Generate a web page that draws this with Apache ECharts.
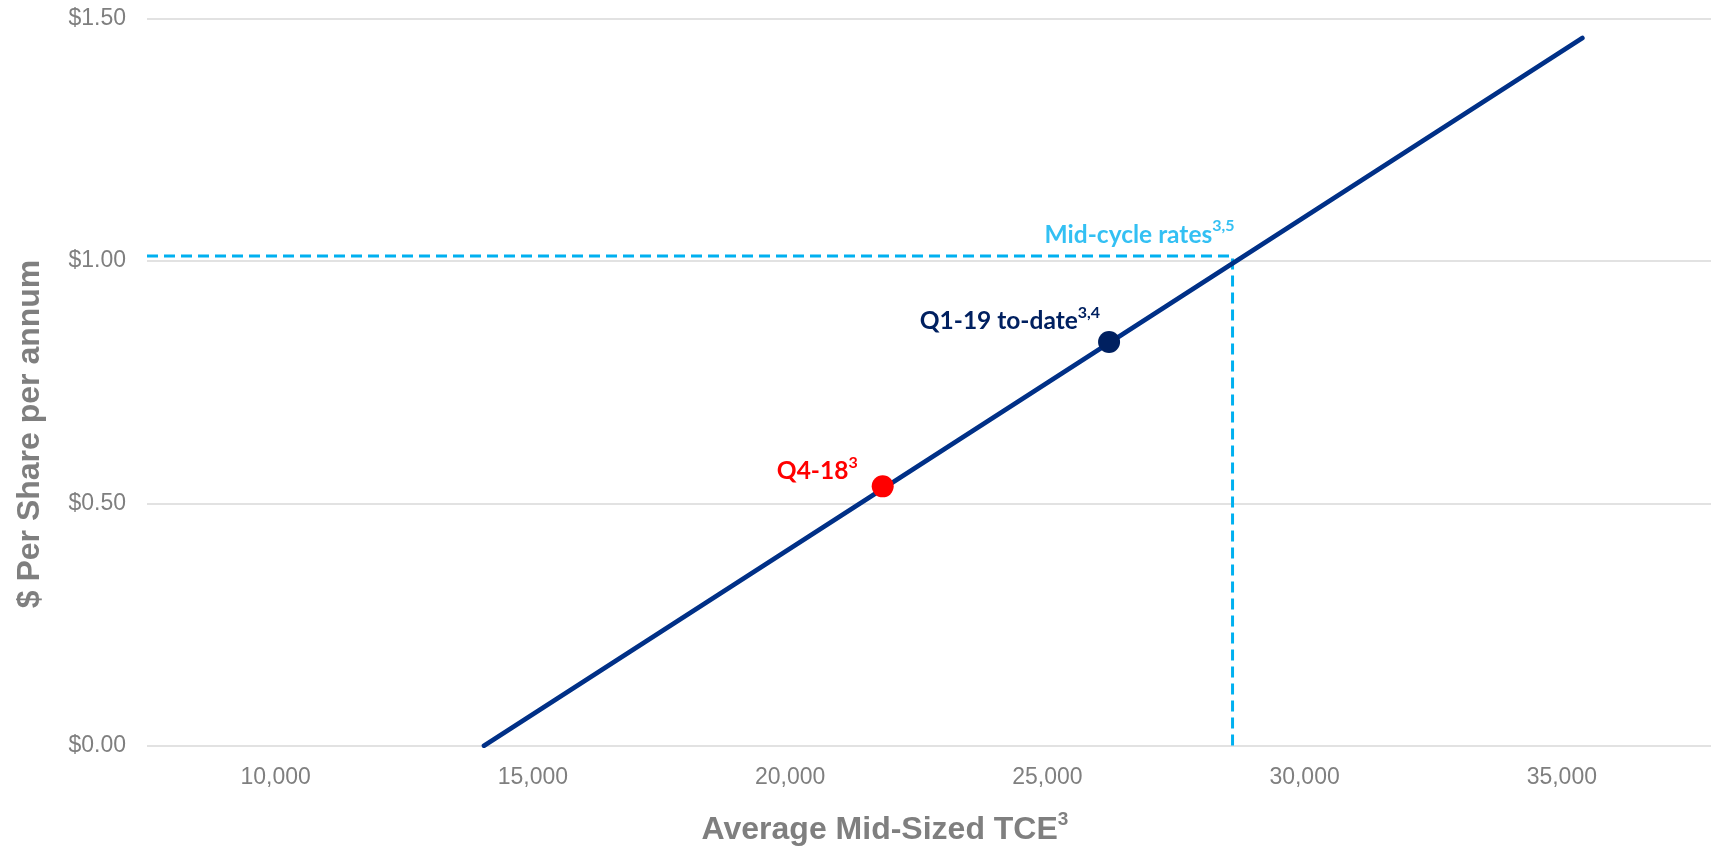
<!DOCTYPE html>
<html>
<head>
<meta charset="utf-8">
<script src="https://cdn.jsdelivr.net/npm/echarts@6/dist/echarts.min.js"></script>
<style>
  html, body { margin: 0; padding: 0; background: #fff; }
  #chart { width: 1717px; height: 846px; }
</style>
</head>
<body>
<div id="chart"></div>
<script>
// Earnings sensitivity: $ per share per annum vs average mid-sized TCE rate
const xTickValues = [10000, 15000, 20000, 25000, 30000, 35000];
const yTickValues = [0, 0.5, 1.0, 1.5];

// Sensitivity line end points [TCE, $ per share]
const lineTce = [14050, 35400];
const lineEps = [0, 1.46];

// Marked periods
const pointNames = ['Q4-18', 'Q1-19 to-date'];
const pointNotes = ['3', '3,4'];
const pointTce = [21800, 26200];
const pointEps = [0.535, 0.833];

// Mid-cycle reference
const midCycleName = 'Mid-cycle rates';
const midCycleNote = '3,5';
const midCycleTce = 28600;
const midCycleEps = 1.01;

const xMin = 7500, xMax = 37900;

const GREY = '#7F7F7F';
const NAVY = '#003087';
const DARK = '#002060';
const RED = '#FF0000';
const CYAN = '#00B0F0';

function richLabel(color) {
  return {
    m: { fontFamily: 'Lato', fontWeight: 'bold', fontSize: 24.5, color: color, lineHeight: 29, verticalAlign: 'bottom' },
    s: { fontFamily: 'Lato', fontWeight: 'bold', fontSize: 16, color: color, lineHeight: 19, verticalAlign: 'top' }
  };
}

const pointColors = [RED, DARK];
const pointOffsets = [[-25, -3], [-9, -8]];

const chart = echarts.init(document.getElementById('chart'), null, { renderer: 'canvas' });

chart.setOption({
  animation: false,
  backgroundColor: '#fff',
  grid: { left: 147, right: 6, top: 18.6, bottom: 100.3, containLabel: false, outerBoundsMode: 'none' },
  xAxis: {
    type: 'value',
    min: xMin,
    max: xMax,
    splitLine: { show: false },
    axisLine: { show: false },
    axisTick: { show: false },
    axisLabel: {
      customValues: xTickValues,
      margin: 20,
      color: GREY,
      fontFamily: 'Liberation Sans',
      fontSize: 23,
      formatter: v => v.toLocaleString('en-US')
    }
  },
  yAxis: {
    type: 'value',
    min: yTickValues[0],
    max: yTickValues[yTickValues.length - 1],
    interval: 0.5,
    axisLine: { show: false },
    axisTick: { show: false },
    splitLine: { lineStyle: { color: '#D9D9D9', width: 1.5 } },
    axisLabel: {
      margin: 21,
      color: GREY,
      fontFamily: 'Liberation Sans',
      fontSize: 23,
      formatter: v => '$' + v.toFixed(2)
    }
  },
  graphic: [
    {
      type: 'text',
      x: 30, y: 434,
      rotation: Math.PI / 2,
      style: {
        text: '$ Per Share per annum',
        fill: GREY,
        font: 'bold 32px "Liberation Sans"',
        align: 'center',
        verticalAlign: 'middle'
      }
    },
    {
      type: 'text',
      x: 885, y: 828,
      style: {
        text: '{m|Average Mid-Sized TCE}{s|3}',
        align: 'center',
        verticalAlign: 'middle',
        rich: {
          m: { font: 'bold 32px "Liberation Sans"', fill: GREY, lineHeight: 36, verticalAlign: 'bottom' },
          s: { font: 'bold 19px "Liberation Sans"', fill: GREY, lineHeight: 24, verticalAlign: 'top' }
        }
      }
    }
  ],
  series: [
    {
      name: 'Mid-cycle guide',
      type: 'line',
      data: [[xMin, midCycleEps], [midCycleTce, midCycleEps], [midCycleTce, 0]],
      symbol: 'none',
      lineStyle: { color: CYAN, width: 3, type: [11, 6] },
      z: 2,
      silent: true
    },
    {
      name: 'Sensitivity',
      type: 'line',
      data: lineTce.map((x, i) => [x, lineEps[i]]),
      symbol: 'none',
      lineStyle: { color: NAVY, width: 4.6, cap: 'round' },
      z: 3,
      silent: true
    },
    {
      name: 'Mid-cycle label',
      type: 'scatter',
      data: [[midCycleTce, midCycleEps]],
      symbolSize: 1,
      itemStyle: { color: 'rgba(0,0,0,0)' },
      label: {
        show: true,
        position: 'inside',
        align: 'right',
        verticalAlign: 'bottom',
        offset: [2, -9],
        formatter: '{m|' + midCycleName + '}{s|' + midCycleNote + '}',
        rich: richLabel(CYAN)
      },
      z: 4,
      silent: true
    },
    {
      name: 'Periods',
      type: 'scatter',
      symbolSize: 22,
      data: pointTce.map((x, i) => ({
        value: [x, pointEps[i]],
        itemStyle: { color: pointColors[i], opacity: 1 },
        label: {
          show: true,
          position: 'inside',
          align: 'right',
          verticalAlign: 'bottom',
          offset: pointOffsets[i],
          formatter: '{m|' + pointNames[i] + '}{s|' + pointNotes[i] + '}',
          rich: richLabel(pointColors[i])
        }
      })),
      z: 5,
      silent: true
    }
  ]
});
</script>
</body>
</html>
